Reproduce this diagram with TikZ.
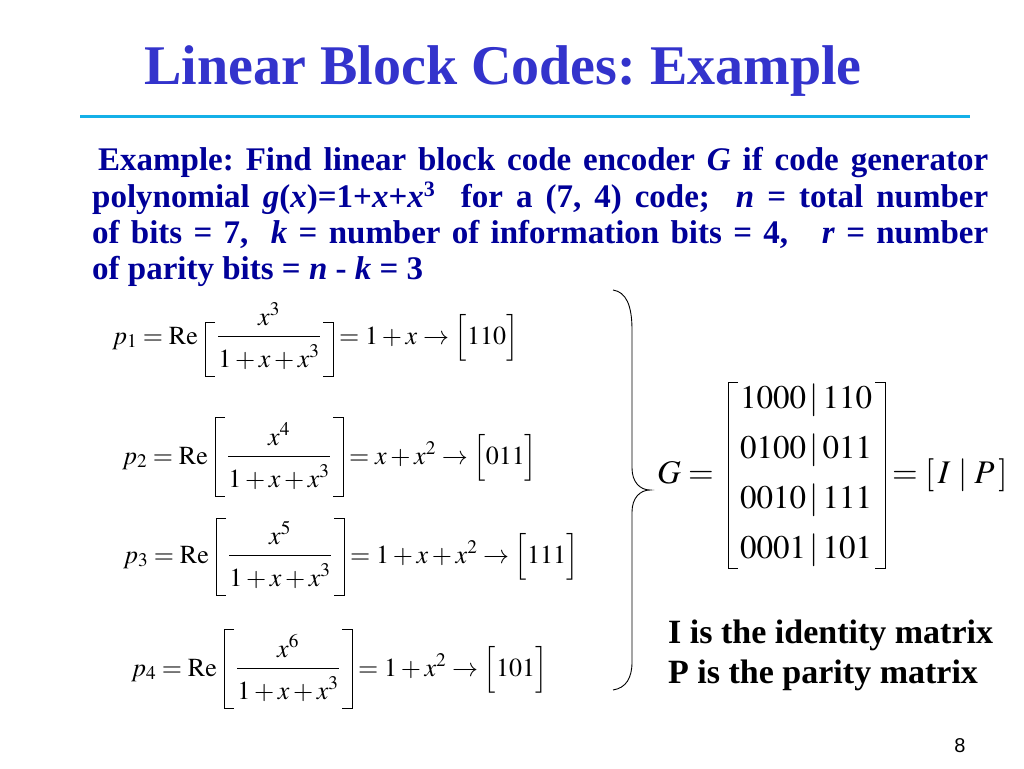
\documentclass[tikz,border=0pt]{standalone}
\usepackage{mathptmx}
\usepackage{fontspec}
\setmainfont{Liberation Serif}
\newfontfamily\pagenumfont{Liberation Sans}
\frenchspacing

\definecolor{titleblue}{RGB}{51,51,204}
\definecolor{textnavy}{RGB}{0,0,153}
\definecolor{rulecyan}{RGB}{20,176,232}

\tikzset{
  slidetitle/.style={inner sep=0pt, text=titleblue, font=\fontsize{56}{60}\selectfont\bfseries},
  bodytext/.style={inner sep=0pt, anchor=base west, text=textnavy, font=\fontsize{33}{36}\selectfont\bfseries},
  eqn/.style={inner sep=0pt, font=\fontsize{26}{30}\selectfont},
  mateqn/.style={inner sep=0pt, font=\fontsize{33}{36}\selectfont},
  note/.style={inner sep=0pt, anchor=base west, font=\fontsize{34}{38}\selectfont\bfseries},
}

\begin{document}
\begin{tikzpicture}[x=1pt,y=-1pt]
  \useasboundingbox (0,0) rectangle (1024,768);
  \fill[white] (0,0) rectangle (1024,768);

  % title and rule
  \node[slidetitle, anchor=base] (title) at (503,84) {Linear Block Codes: Example};
  \draw[rulecyan, line width=3pt] (80,116) -- (970,116);

  % problem statement
  \node[bodytext] (line1) at (98,170) {\makebox[890pt][s]{Example: Find linear block code encoder \textit{G} if code generator}};
  \node[bodytext] (line2) at (92,207) {\makebox[896pt][s]{polynomial \textit{g}(\textit{x})=1+\textit{x}+\textit{x}{\fontsize{22}{24}\selectfont\raisebox{11pt}{3}}\ \ for a (7, 4) code;\ \ \textit{n} = total number}};
  \node[bodytext] (line3) at (92,243) {\makebox[896pt][s]{of bits = 7,\ \ \textit{k} = number of information bits = 4,\ \ \ \textit{r} = number}};
  \node[bodytext] (line4) at (92,279) {of parity bits = \textit{n} - \textit{k} = 3};

  % parity rows
  \foreach \i/\e/\res/\bits/\cx/\y/\top in {1/3/{1+x}/110/269/336/14, 2/4/{x+x^2}/011/279/456/39, 3/5/{1+x+x^2}/111/280/555/37, 4/6/{1+x^2}/101/288/668/39}{
    \coordinate (bar\i) at (\cx,\y);
    \node[eqn, anchor=base] (num\i) at (\cx,\y-11) {$x^{\e}$};
    \node[eqn, anchor=base] (den\i) at (\cx,\y+31) {$1+x+x^3$};
    \draw[line width=0.8pt] (den\i.west |- bar\i) -- (den\i.east |- bar\i);
    \draw[line width=0.8pt] (\cx-54,\y-\top) -- (\cx-64,\y-\top) -- (\cx-64,\y+40) -- (\cx-54,\y+40);
    \draw[line width=0.8pt] (\cx+54,\y-\top) -- (\cx+64,\y-\top) -- (\cx+64,\y+40) -- (\cx+54,\y+40);
    \node[eqn, anchor=base east] (lhs\i) at (\cx-71,\y+8) {$p_{\i} = \mathrm{Re}$};
    \node[eqn, anchor=base west] (rhs\i) at (\cx+70,\y+8) {$= \res \to \Bigl[\bits\Bigr]$};
  }

  % brace
  \draw[line width=0.9pt] (613,290) .. controls (626,292) and (632,305) .. (632,330)
    -- (632,468) .. controls (632,482) and (640,490) .. (650,490)
    .. controls (640,490) and (632,498) .. (632,512)
    -- (632,662) .. controls (632,678) and (626,688) .. (613,690);

  % generator matrix
  \node[mateqn, anchor=base east] (G) at (714,483) {$G =$};
  \foreach \row/\y in {{1000\,|\,110}/408, {0100\,|\,011}/458, {0010\,|\,111}/508, {0001\,|\,101}/558}
    \node[mateqn, anchor=base] at (806,\y) {$\row$};
  \draw[line width=0.9pt] (738,382) -- (728,382) -- (728,568) -- (738,568);
  \draw[line width=0.9pt] (875,382) -- (885,382) -- (885,568) -- (875,568);
  \node[mateqn, anchor=base west] (IP) at (892,483) {$= [\,I\mid P\,]$};

  \node[note] (ident) at (668,643) {I is the identity matrix};
  \node[note] (parity) at (668,683) {P is the parity matrix};

  \node[inner sep=0pt, anchor=base, font=\pagenumfont\fontsize{20}{24}\selectfont] (page) at (960,752) {8};
\end{tikzpicture}
\end{document}
